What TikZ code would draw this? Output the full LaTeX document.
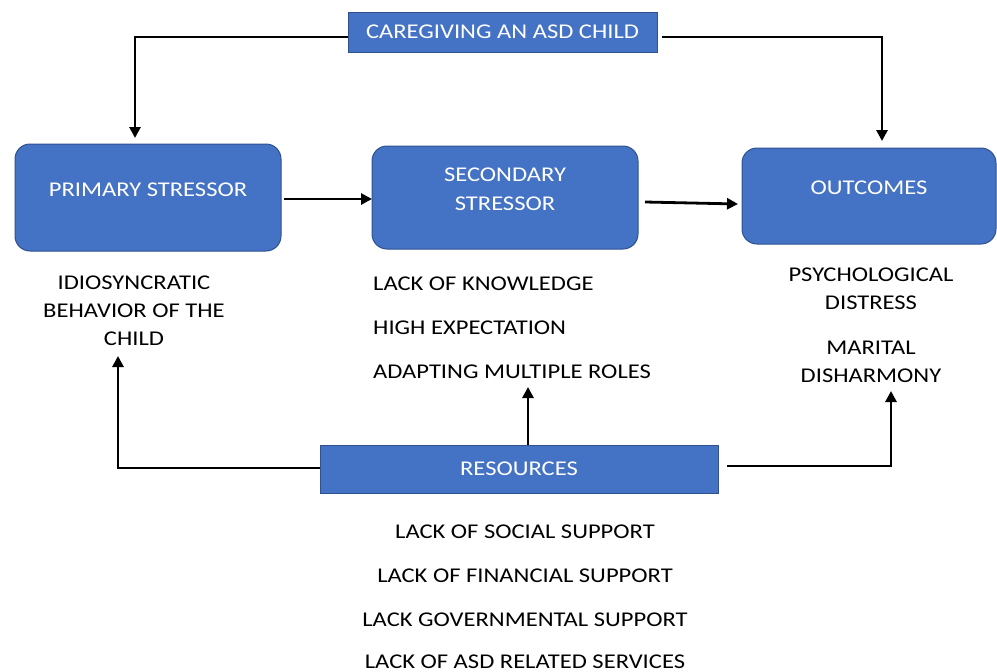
\documentclass[tikz,border=0pt]{standalone}
\usepackage{fontspec}
\setmainfont[FakeStretch=1.17]{Carlito}
\usetikzlibrary{arrows.meta}
\definecolor{boxblue}{HTML}{4472C4}
\definecolor{boxedge}{HTML}{2F528F}
\tikzset{
  sqbox/.style={draw=boxedge, line width=1pt, fill=boxblue, text=white, font=\fontsize{21}{25}\selectfont},
  rbox/.style={draw=boxedge, line width=1pt, fill=boxblue, rounded corners=15pt},
  boxtxt/.style={text=white, font=\fontsize{21}{25}\selectfont, align=center},
  plain/.style={font=\fontsize{21}{25}\selectfont, inner sep=0pt},
  conn/.style={line width=2.8pt, -{Triangle[length=11pt,width=11pt]}},
}
\begin{document}
\begin{tikzpicture}[x=1pt,y=-1pt]
\useasboundingbox (0,0) rectangle (997,672);
% boxes
\node[sqbox, minimum width=309pt, minimum height=40pt, inner sep=0pt] (care) at (502.5,32) {CAREGIVING AN ASD CHILD};
\draw[rbox] (15,144) rectangle (281,251);
\node[boxtxt] (primt) at (148,190) {PRIMARY STRESSOR};
\draw[rbox] (372,146) rectangle (638,249);
\node[boxtxt, font=\fontsize{21}{29}\selectfont] (sect) at (505,189.5) {SECONDARY\\STRESSOR};
\draw[rbox] (742,148) rectangle (996,244);
\node[boxtxt] (outt) at (869,188) {OUTCOMES};
\node[sqbox, minimum width=398pt, minimum height=48pt, inner sep=0pt] (res) at (519,469) {RESOURCES};
% coordinates
\coordinate (primtop) at (135,138);
\coordinate (outtop) at (882,141);
\coordinate (primR) at (284,199);
\coordinate (secL) at (372,199);
\coordinate (secR) at (645,202);
\coordinate (outL) at (738,204);
% texts
\node[plain, align=center, font=\fontsize{21}{28}\selectfont] (idio) at (134,311) {IDIOSYNCRATIC\\BEHAVIOR OF THE\\CHILD};
\node[plain, anchor=west] (s1) at (373,284) {LACK OF KNOWLEDGE};
\node[plain, anchor=west] (s2) at (373,328) {HIGH EXPECTATION};
\node[plain, anchor=west] (s3) at (373,372) {ADAPTING MULTIPLE ROLES};
\node[plain, align=center, font=\fontsize{21}{28}\selectfont] (o1) at (871,289) {PSYCHOLOGICAL\\DISTRESS};
\node[plain, align=center, font=\fontsize{21}{28}\selectfont] (o2) at (871,362) {MARITAL\\DISHARMONY};
\node[plain] (r1) at (525,532) {LACK OF SOCIAL SUPPORT};
\node[plain] (r2) at (525,576) {LACK OF FINANCIAL SUPPORT};
\node[plain] (r3) at (525,620) {LACK GOVERNMENTAL SUPPORT};
\node[plain] (r4) at (525,662) {LACK OF ASD RELATED SERVICES};
\coordinate (idiob) at (118,356);
\coordinate (s3b) at (528,387);
\coordinate (o2b) at (891,391);
\coordinate (resR) at (727,466);
\coordinate (careR) at (662,37);
% connectors
\draw[conn] (care.west |- 0,37) -| (primtop);
\draw[conn] (careR) -| (outtop);
\draw[conn] (primR) -- (secL);
\draw[conn] (secR) -- (outL);
\draw[conn] (res.west |- 0,468) -| (idiob);
\draw[conn] (res.north -| s3b) -- (s3b);
\draw[conn] (resR) -| (o2b);
\end{tikzpicture}
\end{document}
